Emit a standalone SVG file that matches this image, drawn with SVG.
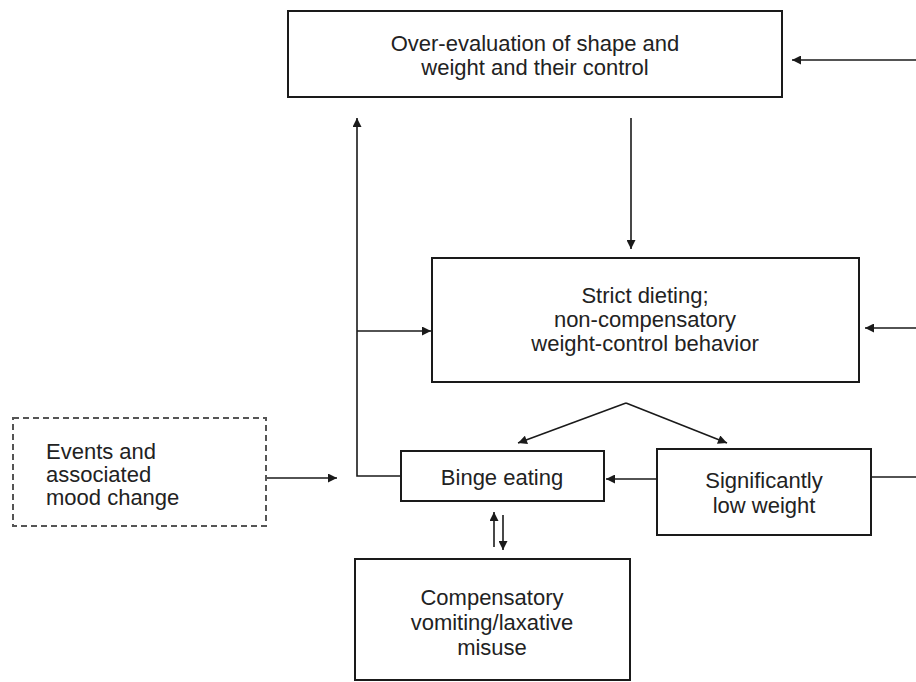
<svg xmlns="http://www.w3.org/2000/svg" width="916" height="682" viewBox="0 0 916 682">
<style>
.box{fill:#fff;stroke:#1a1a1a;stroke-width:2}
.dash{fill:#fff;stroke:#555;stroke-width:2;stroke-dasharray:6 4}
.t{font-family:"Liberation Sans",Arial,sans-serif;font-size:22px;fill:#222}
.c{text-anchor:middle}
.ln{fill:none;stroke:#1a1a1a;stroke-width:1.6}
</style>
<defs>
<marker id="ah" viewBox="0 0 10 10" refX="10" refY="5" markerWidth="11" markerHeight="9" markerUnits="userSpaceOnUse" orient="auto">
<path d="M0,0 L10,5 L0,10 Z" fill="#1a1a1a"/>
</marker>
</defs>
<rect width="916" height="682" fill="#fff"/>
<g id="connectors">
<line class="ln" x1="916" y1="60" x2="792" y2="60" marker-end="url(#ah)"/>
<line class="ln" x1="631" y1="118" x2="631" y2="249" marker-end="url(#ah)"/>
<line class="ln" x1="916" y1="328" x2="865" y2="328" marker-end="url(#ah)"/>
<line class="ln" x1="871" y1="477" x2="916" y2="477"/>
<polyline class="ln" points="401,476 357,476 357,118" marker-end="url(#ah)"/>
<line class="ln" x1="357" y1="331" x2="431" y2="331" marker-end="url(#ah)"/>
<line class="ln" x1="266" y1="478" x2="337" y2="478" marker-end="url(#ah)"/>
<line class="ln" x1="626" y1="403" x2="518" y2="443" marker-end="url(#ah)"/>
<line class="ln" x1="626" y1="403" x2="727" y2="443" marker-end="url(#ah)"/>
<line class="ln" x1="657" y1="479" x2="606" y2="479" marker-end="url(#ah)"/>
<line class="ln" x1="494" y1="547" x2="494" y2="512" marker-end="url(#ah)"/>
<line class="ln" x1="503" y1="515" x2="503" y2="550" marker-end="url(#ah)"/>
</g>
<g id="n-overeval">
<rect class="box" x="288" y="11" width="494" height="86"/>
<text class="t c" x="535" y="51">Over-evaluation of shape and</text>
<text class="t c" x="535" y="75">weight and their control</text>
</g>
<g id="n-dieting">
<rect class="box" x="432" y="258" width="427" height="124"/>
<text class="t c" x="645" y="303">Strict dieting;</text>
<text class="t c" x="645" y="327">non-compensatory</text>
<text class="t c" x="645" y="351">weight-control behavior</text>
</g>
<g id="n-events">
<rect class="dash" x="13" y="418" width="253" height="108"/>
<text class="t" x="46" y="459">Events and</text>
<text class="t" x="46" y="482">associated</text>
<text class="t" x="46" y="505">mood change</text>
</g>
<g id="n-binge">
<rect class="box" x="401" y="451" width="203" height="50"/>
<text class="t c" x="502" y="485">Binge eating</text>
</g>
<g id="n-lowweight">
<rect class="box" x="657" y="449" width="214" height="86"/>
<text class="t c" x="764" y="488">Significantly</text>
<text class="t c" x="764" y="513">low weight</text>
</g>
<g id="n-compensatory">
<rect class="box" x="355" y="559" width="275" height="121"/>
<text class="t c" x="492" y="605">Compensatory</text>
<text class="t c" x="492" y="630">vomiting/laxative</text>
<text class="t c" x="492" y="655">misuse</text>
</g>
</svg>
